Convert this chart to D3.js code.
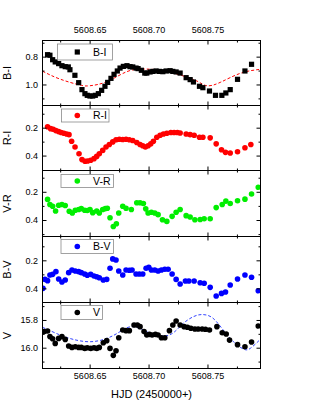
<!DOCTYPE html>
<html>
<head>
<meta charset="utf-8">
<script src="https://cdn.jsdelivr.net/npm/d3@7"></script>
<style>
  body { margin: 0; background: #fff; }
  svg { font-family: "Liberation Sans", Arial, sans-serif; }
</style>
</head>
<body>
<div id="container"></div>
<script>

      // HJD - 2450000 on the x axis
      var xRange = [5608.610, 5608.795];
      var xMajor = [5608.65, 5608.70, 5608.75];
      var xMinor = [5608.625, 5608.675, 5608.725, 5608.775];

      // y axis ranges and ticks, one per panel
      var biRange = [0.684, 1.151], biMajor = [0.8, 1.0], biMinor = [0.7, 0.9, 1.1];
      var riRange = [0.041, 0.507], riMajor = [0.2, 0.4], riMinor = [0.1, 0.3];
      var vrRange = [0.049, 0.517], vrMajor = [0.2, 0.4], vrMinor = [0.1, 0.3, 0.5];
      var bvRange = [0.030, 0.501], bvMajor = [0.2, 0.4], bvMinor = [0.1, 0.3];
      var vRange = [15.674, 16.150], vMajor = [15.8, 16.0], vMinor = [15.7, 15.9, 16.1];

      //B-I colour index
      var biData = [[5608.6143,0.786],[5608.6163,0.790],[5608.6186,0.822],[5608.6208,0.838],[5608.6237,0.850],[5608.6265,0.865],
        [5608.6293,0.872],[5608.6319,0.874],[5608.6333,0.894],[5608.6375,0.934],[5608.6407,0.987],[5608.6435,1.037],[5608.6460,1.066],
        [5608.6480,1.078],[5608.6503,1.083],[5608.6526,1.083],[5608.6548,1.078],[5608.6574,1.066],[5608.6602,1.042],[5608.6630,1.013],
        [5608.6653,0.985],[5608.6681,0.956],[5608.6707,0.927],[5608.6735,0.903],[5608.6758,0.882],[5608.6786,0.870],[5608.6817,0.865],
        [5608.6843,0.872],[5608.6866,0.874],[5608.6894,0.882],[5608.6911,0.886],[5608.6939,0.898],[5608.6968,0.918],[5608.6985,0.918],
        [5608.7013,0.910],[5608.7036,0.906],[5608.7064,0.903],[5608.7092,0.906],[5608.7121,0.908],[5608.7149,0.903],[5608.7183,0.901],
        [5608.7206,0.906],[5608.7234,0.910],[5608.7268,0.918],[5608.7319,0.951],[5608.7353,0.965],[5608.7381,0.982],[5608.7432,1.013],
        [5608.7461,1.023],[5608.7517,1.047],[5608.7568,1.078],[5608.7622,1.078],[5608.7656,1.061],[5608.7693,1.037],[5608.7755,0.963],
        [5608.7818,0.903],[5608.7874,0.855]];
      var biFit = [[5608.6101,0.905],[5608.6248,0.961],[5608.6418,1.004],[5608.6503,1.009],[5608.6645,0.980],[5608.6815,0.908],
        [5608.6956,0.889],[5608.7098,0.898],[5608.7268,0.932],[5608.7410,0.975],[5608.7495,1.009],[5608.7608,0.985],[5608.7778,0.920],
        [5608.7948,0.891]];

      //R-I
      var riData = [[5608.6143,0.193],[5608.6169,0.207],[5608.6191,0.212],[5608.6214,0.221],[5608.6237,0.228],[5608.6259,0.235],
        [5608.6282,0.240],[5608.6305,0.245],[5608.6325,0.250],[5608.6347,0.297],[5608.6376,0.339],[5608.6410,0.387],[5608.6435,0.429],
        [5608.6461,0.441],[5608.6483,0.439],[5608.6509,0.434],[5608.6537,0.422],[5608.6560,0.406],[5608.6582,0.387],[5608.6611,0.363],
        [5608.6639,0.339],[5608.6667,0.321],[5608.6696,0.302],[5608.6724,0.287],[5608.6752,0.283],[5608.6781,0.285],[5608.6809,0.283],
        [5608.6837,0.287],[5608.6866,0.292],[5608.6900,0.306],[5608.6928,0.321],[5608.6951,0.330],[5608.6973,0.339],[5608.6996,0.330],
        [5608.7019,0.316],[5608.7041,0.297],[5608.7070,0.269],[5608.7098,0.254],[5608.7126,0.245],[5608.7155,0.240],[5608.7189,0.235],
        [5608.7217,0.235],[5608.7245,0.235],[5608.7268,0.238],[5608.7319,0.245],[5608.7353,0.250],[5608.7387,0.254],[5608.7432,0.269],
        [5608.7461,0.269],[5608.7523,0.273],[5608.7574,0.316],[5608.7619,0.358],[5608.7653,0.377],[5608.7693,0.382],[5608.7755,0.373],
        [5608.7818,0.344],[5608.7868,0.321]];

      //V-R
      var vrData = [[5608.6143,0.254],[5608.6163,0.290],[5608.6186,0.302],[5608.6211,0.336],[5608.6237,0.295],[5608.6265,0.290],
        [5608.6293,0.297],[5608.6327,0.338],[5608.6353,0.350],[5608.6378,0.331],[5608.6407,0.326],[5608.6429,0.319],[5608.6458,0.331],
        [5608.6480,0.333],[5608.6503,0.326],[5608.6526,0.348],[5608.6560,0.336],[5608.6582,0.350],[5608.6611,0.326],[5608.6633,0.319],
        [5608.6650,0.317],[5608.6673,0.384],[5608.6701,0.446],[5608.6727,0.427],[5608.6747,0.350],[5608.6781,0.302],[5608.6809,0.317],
        [5608.6854,0.326],[5608.6900,0.278],[5608.6928,0.278],[5608.6956,0.283],[5608.6976,0.321],[5608.6996,0.350],[5608.7024,0.345],
        [5608.7053,0.350],[5608.7081,0.362],[5608.7118,0.398],[5608.7155,0.410],[5608.7200,0.374],[5608.7234,0.345],[5608.7268,0.326],
        [5608.7319,0.369],[5608.7353,0.379],[5608.7393,0.398],[5608.7438,0.396],[5608.7472,0.391],[5608.7523,0.391],[5608.7574,0.312],
        [5608.7625,0.290],[5608.7656,0.266],[5608.7693,0.283],[5608.7755,0.264],[5608.7818,0.252],[5608.7874,0.216],[5608.7931,0.168]];

      //B-V
      var bvData = [[5608.6104,0.400],[5608.6121,0.336],[5608.6143,0.345],[5608.6163,0.305],[5608.6186,0.300],[5608.6214,0.281],
        [5608.6237,0.333],[5608.6265,0.355],[5608.6293,0.340],[5608.6322,0.288],[5608.6350,0.269],[5608.6378,0.276],[5608.6407,0.281],
        [5608.6429,0.288],[5608.6458,0.298],[5608.6480,0.307],[5608.6509,0.300],[5608.6537,0.312],[5608.6560,0.317],[5608.6582,0.324],
        [5608.6616,0.340],[5608.6645,0.336],[5608.6673,0.257],[5608.6696,0.190],[5608.6724,0.198],[5608.6747,0.276],[5608.6781,0.305],
        [5608.6809,0.269],[5608.6837,0.271],[5608.6860,0.269],[5608.6894,0.298],[5608.6922,0.298],[5608.6951,0.298],[5608.6979,0.257],
        [5608.7002,0.250],[5608.7024,0.269],[5608.7053,0.269],[5608.7081,0.276],[5608.7109,0.269],[5608.7138,0.264],[5608.7166,0.264],
        [5608.7200,0.298],[5608.7234,0.336],[5608.7268,0.369],[5608.7313,0.348],[5608.7342,0.348],[5608.7387,0.348],[5608.7438,0.360],
        [5608.7472,0.364],[5608.7523,0.393],[5608.7574,0.455],[5608.7619,0.436],[5608.7653,0.426],[5608.7693,0.376],[5608.7755,0.333],
        [5608.7818,0.305],[5608.7874,0.321],[5608.7931,0.417]];

      //V magnitude
      var vData = [[5608.6115,15.884],[5608.6143,15.880],[5608.6163,15.920],[5608.6186,15.935],[5608.6208,15.969],[5608.6237,15.933],
        [5608.6265,15.920],[5608.6293,15.940],[5608.6322,15.988],[5608.6350,15.998],[5608.6378,15.993],[5608.6407,15.998],[5608.6429,15.998],
        [5608.6458,16.005],[5608.6480,16.000],[5608.6509,16.005],[5608.6537,16.000],[5608.6560,16.005],[5608.6582,15.998],[5608.6616,15.964],
        [5608.6645,15.949],[5608.6673,16.005],[5608.6701,16.055],[5608.6724,16.022],[5608.6747,15.928],[5608.6781,15.872],[5608.6809,15.877],
        [5608.6837,15.877],[5608.6877,15.836],[5608.6905,15.836],[5608.6928,15.848],[5608.6962,15.884],[5608.6985,15.908],[5608.7007,15.904],
        [5608.7030,15.908],[5608.7058,15.904],[5608.7081,15.908],[5608.7109,15.928],[5608.7138,15.928],[5608.7177,15.877],[5608.7206,15.836],
        [5608.7234,15.807],[5608.7268,15.836],[5608.7302,15.848],[5608.7330,15.853],[5608.7359,15.860],[5608.7393,15.865],[5608.7421,15.865],
        [5608.7455,15.865],[5608.7483,15.867],[5608.7517,15.872],[5608.7580,15.848],[5608.7625,15.892],[5608.7659,15.901],[5608.7687,15.945],
        [5608.7755,15.978],[5608.7818,15.993],[5608.7874,15.959],[5608.7931,15.843]];
      var vFit = [[5608.6101,15.853],[5608.6248,15.908],[5608.6361,15.940],[5608.6503,15.957],[5608.6645,15.933],[5608.6758,15.884],
        [5608.6871,15.848],[5608.7013,15.896],[5608.7126,15.916],[5608.7211,15.892],[5608.7296,15.824],[5608.7381,15.776],[5608.7452,15.761],
        [5608.7537,15.781],[5608.7622,15.860],[5608.7721,15.957],[5608.7806,16.010],[5608.7863,16.005],[5608.7948,15.940]];

      //Width and height
      var w = 311;
      var h = 402;
      var left = 42.5, right = 260.5;
      var panelTop = [40.5, 105.5, 170.5, 236.5, 302.5];
      var panelBottom = [105.5, 170.5, 236.5, 302.5, 368.5];
      var font = "'Liberation Sans', Arial, sans-serif";

      var panels = [
        { label: "B-I", data: biData, range: biRange, major: biMajor, minor: biMinor, color: "#000000", shape: "square",
          fit: biFit, fitColor: "#ff0000", box: [57.5, 3.5, 55, 16] },
        { label: "R-I", data: riData, range: riRange, major: riMajor, minor: riMinor, color: "#ff0000", shape: "circle",
          box: [61.5, 3.5, 47.5, 13] },
        { label: "V-R", data: vrData, range: vrRange, major: vrMajor, minor: vrMinor, color: "#00ee00", shape: "circle",
          box: [61, 4, 52.5, 13] },
        { label: "B-V", data: bvData, range: bvRange, major: bvMajor, minor: bvMinor, color: "#0000ff", shape: "circle",
          box: [61, 3, 52.5, 14] },
        { label: "V", data: vData, range: vRange, major: vMajor, minor: vMinor, color: "#000000", shape: "circle",
          fit: vFit, fitColor: "#3344ff", box: [61, 3, 41.5, 14] }
      ];

      //Create SVG
      var svg = d3.select("#container")
            .append("svg")
            .attr("width", w)
            .attr("height", h);

      var x = d3.scaleLinear().domain(xRange).range([left, right]);
      var noLabel = function() { return ""; };

      //one edge of a panel: inward ticks, optional labels
      function edge(axisFn, scale, values, size, fmt, pad, tx, ty) {
        var a = axisFn(scale).tickValues(values).tickSize(-size).tickSizeOuter(0)
                .tickPadding(pad).tickFormat(fmt || noLabel);
        var g = svg.append("g").attr("transform", "translate(" + tx + "," + ty + ")").call(a);
        g.select(".domain").remove();
        g.selectAll("text").attr("font-size", 9).attr("font-family", font).attr("fill", "#000");
        return g;
      }

      panels.forEach(function(p, i) {
        var top = panelTop[i], bottom = panelBottom[i];
        var y = d3.scaleLinear().domain(p.range).range([top, bottom]);

        var clipId = "clip" + i;
        svg.append("clipPath").attr("id", clipId)
          .append("rect")
          .attr("x", left).attr("y", top)
          .attr("width", right - left).attr("height", bottom - top);

        var plot = svg.append("g").attr("clip-path", "url(#" + clipId + ")");

        //fit curve
        if (p.fit) {
          var line = d3.line()
                .x(function(d) { return x(d[0]); })
                .y(function(d) { return y(d[1]); })
                .curve(d3.curveNatural);
          plot.append("path")
            .attr("d", line(p.fit))
            .attr("fill", "none")
            .attr("stroke", p.fitColor)
            .attr("stroke-width", 1)
            .attr("stroke-dasharray", "3,2");
        }

        //points
        if (p.shape == "square") {
          plot.selectAll("rect.pt")
            .data(p.data)
            .enter()
            .append("rect")
            .attr("class", "pt")
            .attr("x", function(d) { return x(d[0]) - 2.6; })
            .attr("y", function(d) { return y(d[1]) - 2.6; })
            .attr("width", 5.2)
            .attr("height", 5.2)
            .attr("fill", p.color);
        } else {
          plot.selectAll("circle.pt")
            .data(p.data)
            .enter()
            .append("circle")
            .attr("class", "pt")
            .attr("cx", function(d) { return x(d[0]); })
            .attr("cy", function(d) { return y(d[1]); })
            .attr("r", 2.8)
            .attr("fill", p.color);
        }

        //frame
        svg.append("rect")
          .attr("x", left).attr("y", top)
          .attr("width", right - left).attr("height", bottom - top)
          .attr("fill", "none").attr("stroke", "#000").attr("stroke-width", 1);

        //ticks on all four sides
        var yfmt = d3.format(".1f");
        edge(d3.axisLeft, y, p.major, 4, yfmt, 4.5, left, 0);
        edge(d3.axisLeft, y, p.minor, 2, null, 3, left, 0);
        edge(d3.axisRight, y, p.major, 4, null, 3, right, 0);
        edge(d3.axisRight, y, p.minor, 2, null, 3, right, 0);
        edge(d3.axisTop, x, xMajor, 4, i == 0 ? d3.format(".2f") : null, 7.5, 0, top);
        edge(d3.axisTop, x, xMinor, 2, null, 3, 0, top);
        edge(d3.axisBottom, x, xMajor, 4, i == panels.length - 1 ? d3.format(".2f") : null, 4.5, 0, bottom);
        edge(d3.axisBottom, x, xMinor, 2, null, 3, 0, bottom);

        //y title
        svg.append("text")
          .attr("transform", "translate(11," + ((top + bottom) / 2) + ") rotate(-90)")
          .attr("text-anchor", "middle")
          .attr("font-size", 11)
          .attr("font-family", font)
          .text(p.label);

        //legend
        var bx = p.box[0], by = top + p.box[1], bw = p.box[2], bh = p.box[3];
        svg.append("rect")
          .attr("x", bx).attr("y", by)
          .attr("width", bw).attr("height", bh)
          .attr("fill", "#fff").attr("stroke", "#8a8a8a").attr("stroke-width", 0.8);
        var cy = by + bh / 2;
        if (p.shape == "square") {
          svg.append("rect")
            .attr("x", 77.3 - 2.6).attr("y", cy - 2.6)
            .attr("width", 5.2).attr("height", 5.2)
            .attr("fill", p.color);
        } else {
          svg.append("circle")
            .attr("cx", 77.3).attr("cy", cy).attr("r", 2.8)
            .attr("fill", p.color);
        }
        svg.append("text")
          .attr("x", 93)
          .attr("y", cy + 3.8)
          .attr("font-size", 10.5)
          .attr("font-family", font)
          .text(p.label);
      });

      //x title
      svg.append("text")
        .attr("x", (left + right) / 2)
        .attr("y", 397.5)
        .attr("text-anchor", "middle")
        .attr("font-size", 11)
        .attr("font-family", font)
        .text("HJD (2450000+)");

</script>
</body>
</html>
